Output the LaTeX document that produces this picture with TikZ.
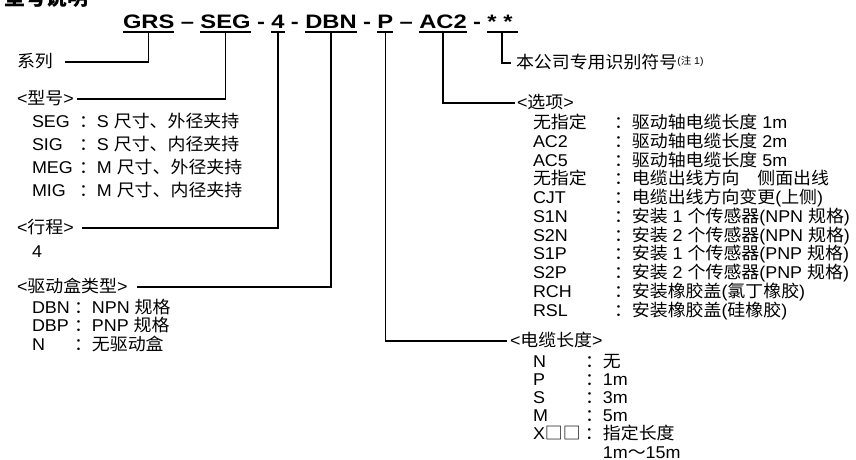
\documentclass[tikz,border=0pt]{standalone}
\usepackage{fontspec}
\setmainfont{Liberation Sans}[FakeStretch=1.05]
\newfontfamily\zhfont{Noto Sans CJK SC}[FakeStretch=1.05]
\newfontfamily\hdfont{Liberation Sans}[FakeStretch=1.22]
\usetikzlibrary{positioning,calc}

\newcommand\zh[1]{{\zhfont #1}}
\newlength\modw \setlength\modw{35.25pt}
\newlength\drvw \setlength\drvw{31.5pt}
\newlength\optw \setlength\optw{60.75pt}
\newlength\cabw \setlength\cabw{39pt}

\begin{document}
\begin{tikzpicture}[
        x=0.75pt, y=-0.75pt,
        node distance=4.8pt,
        every node/.style={inner sep=0pt, outer sep=0pt, font=\fontsize{12.8pt}{14pt}\selectfont},
        every path/.style={line width=0.9pt},
        segpart/.style={font=\hdfont\bfseries\fontsize{14.6pt}{16pt}\selectfont, inner ysep=2.5pt, text height=11pt, text depth=0pt},
        heading/.style={anchor=west, text height=10pt, text depth=2pt},
        rowitem/.style={anchor=north west, text height=10pt, text depth=3pt},
        uline/.style={line width=1.6pt}
    ]
    \useasboundingbox (0,0) rectangle (856,460);

    % Nodes
    \node (title)[anchor=base west, font=\zhfont\bfseries\fontsize{15pt}{15pt}\selectfont] at (4,5.5) {型号说明};

    \node (grs)[segpart, anchor=base west] at (123,29) {GRS};
    \node (d1)[segpart, right=of grs] {–};
    \node (seg)[segpart, right=of d1] {SEG};
    \node (d2)[segpart, right=of seg] {-};
    \node (stroke)[segpart, right=of d2] {4};
    \node (d3)[segpart, right=of stroke] {-};
    \node (dbn)[segpart, right=of d3] {DBN};
    \node (d4)[segpart, right=of dbn] {-};
    \node (pcode)[segpart, right=of d4] {P};
    \node (d5)[segpart, right=of pcode] {–};
    \node (ac2)[segpart, right=of d5] {AC2};
    \node (d6)[segpart, right=of ac2] {-};
    \node (stars)[segpart, right=of d6] {* *};

    % left side
    \node (xilie)[heading] at (17,62) {\zh{系列}};

    \node (xinghao)[heading] at (17,99) {<\zh{型号}>};
    \node (m1)[rowitem] at (32,113.7) {\makebox[\modw][l]{SEG}\zh{：}S \zh{尺寸、外径夹持}};
    \node (m2)[below=4.25pt of m1.south west, rowitem] {\makebox[\modw][l]{SIG}\zh{：}S \zh{尺寸、内径夹持}};
    \node (m3)[below=4.25pt of m2.south west, rowitem] {\makebox[\modw][l]{MEG}\zh{：}M \zh{尺寸、外径夹持}};
    \node (m4)[below=4.25pt of m3.south west, rowitem] {\makebox[\modw][l]{MIG}\zh{：}M \zh{尺寸、内径夹持}};

    \node (xingcheng)[heading] at (17,228) {<\zh{行程}>};
    \node (s1)[rowitem] at (32,243.7) {4};

    \node (qudong)[heading] at (17,287) {<\zh{驱动盒类型}>};
    \node (dr1)[rowitem] at (32,299.7) {\makebox[\drvw][l]{DBN}\zh{：}NPN \zh{规格}};
    \node (dr2)[below=0.9pt of dr1.south west, rowitem] {\makebox[\drvw][l]{DBP}\zh{：}PNP \zh{规格}};
    \node (dr3)[below=0.9pt of dr2.south west, rowitem] {\makebox[\drvw][l]{N}\zh{：无驱动盒}};

    % right side
    \node (benzi)[heading] at (516,63) {\zh{本公司专用识别符号}\raisebox{3pt}{\fontsize{7.5pt}{8pt}\selectfont(\zh{注} 1)}};

    \node (xuanxiang)[heading] at (517,103) {<\zh{选项}>};
    \node (o1)[rowitem] at (533,115.2) {\makebox[\optw][l]{\zh{无指定}}\zh{：驱动轴电缆长度} 1m};
    \node (o2)[below=1.06pt of o1.south west, rowitem] {\makebox[\optw][l]{AC2}\zh{：驱动轴电缆长度} 2m};
    \node (o3)[below=1.06pt of o2.south west, rowitem] {\makebox[\optw][l]{AC5}\zh{：驱动轴电缆长度} 5m};
    \node (o4)[below=1.06pt of o3.south west, rowitem] {\makebox[\optw][l]{\zh{无指定}}\zh{：电缆出线方向　侧面出线}};
    \node (o5)[below=1.06pt of o4.south west, rowitem] {\makebox[\optw][l]{CJT}\zh{：电缆出线方向变更}(\zh{上侧})};
    \node (o6)[below=1.06pt of o5.south west, rowitem] {\makebox[\optw][l]{S1N}\zh{：安装} 1 \zh{个传感器}(NPN \zh{规格})};
    \node (o7)[below=1.06pt of o6.south west, rowitem] {\makebox[\optw][l]{S2N}\zh{：安装} 2 \zh{个传感器}(NPN \zh{规格})};
    \node (o8)[below=1.06pt of o7.south west, rowitem] {\makebox[\optw][l]{S1P}\zh{：安装} 1 \zh{个传感器}(PNP \zh{规格})};
    \node (o9)[below=1.06pt of o8.south west, rowitem] {\makebox[\optw][l]{S2P}\zh{：安装} 2 \zh{个传感器}(PNP \zh{规格})};
    \node (o10)[below=1.06pt of o9.south west, rowitem] {\makebox[\optw][l]{RCH}\zh{：安装橡胶盖}(\zh{氯丁橡胶})};
    \node (o11)[below=1.06pt of o10.south west, rowitem] {\makebox[\optw][l]{RSL}\zh{：安装橡胶盖}(\zh{硅橡胶})};

    \node (dianlan)[heading] at (510,341) {<\zh{电缆长度}>};
    \node (c1)[rowitem] at (533,354) {\makebox[\cabw][l]{N}\zh{：无}};
    \node (c2)[below=0.6pt of c1.south west, rowitem] {\makebox[\cabw][l]{P}\zh{：}1m};
    \node (c3)[below=0.6pt of c2.south west, rowitem] {\makebox[\cabw][l]{S}\zh{：}3m};
    \node (c4)[below=0.6pt of c3.south west, rowitem] {\makebox[\cabw][l]{M}\zh{：}5m};
    \node (c5)[below=0.6pt of c4.south west, rowitem] {\makebox[\cabw][l]{X\zh{□□}}\zh{：指定长度}};
    \node (c6)[below=0.6pt of c5.south west, rowitem] {\makebox[\cabw][l]{}\zh{\phantom{：}}1m\zh{～}15m};

    % Edges
    \draw[uline] (grs.south west) -- (grs.south east);
    \draw[uline] (seg.south west) -- (seg.south east);
    \draw[uline] (stroke.south west) -- (stroke.south east);
    \draw[uline] (dbn.south west) -- (dbn.south east);
    \draw[uline] (pcode.south west) -- (pcode.south east);
    \draw[uline] (ac2.south west) -- (ac2.south east);
    \draw[uline] (stars.south west) -- ($(stars.south east)+(5,0)$);

    \draw (grs.south) |- ($(xilie.east)+(12,0)$);
    \draw (seg.south) |- ($(xinghao.east)+(3,0)$);
    \draw (stroke.south) |- ($(xingcheng.east)+(8,0)$);
    \draw (dbn.south) |- ($(qudong.east)+(9,0)$);
    \draw (pcode.south) |- ($(dianlan.west)+(-3,0)$);
    \draw (ac2.south) |- ($(xuanxiang.west)+(-2,0)$);
    \draw ($(stars.south)+(2,0)$) |- ($(benzi.west)+(-5,0)$);

\end{tikzpicture}
\end{document}
